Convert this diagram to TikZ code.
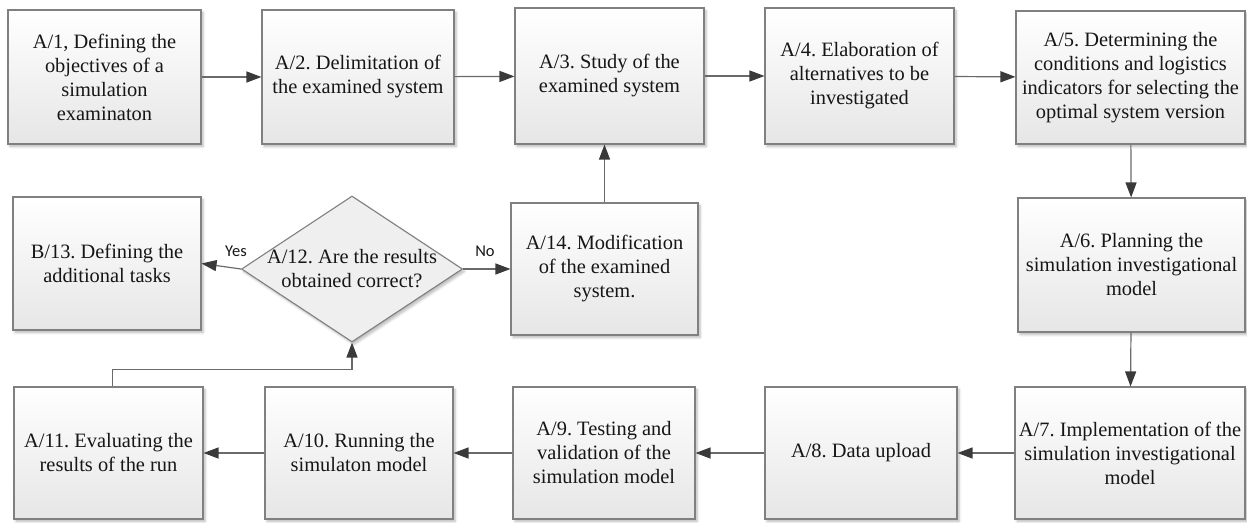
\documentclass[tikz,border=0pt]{standalone}
\usepackage{fontspec}
\setmainfont{Liberation Serif}
\newfontfamily\labelfont{Carlito}
\usetikzlibrary{arrows.meta,shapes.geometric,shadows.blur}
\frenchspacing

\definecolor{boxline}{HTML}{808080}
\definecolor{boxbot}{HTML}{E6E6E6}
\definecolor{linkcol}{HTML}{6A6A6A}
\definecolor{tipcol}{HTML}{3A3A3A}
\definecolor{txt}{HTML}{161616}
\definecolor{diafill}{HTML}{EFEFEF}

\begin{document}
\begin{tikzpicture}[x=1pt,y=-1pt,
  softshadow/.style={blur shadow={shadow xshift=2pt, shadow yshift=-2.5pt,
      shadow opacity=28, shadow blur steps=6, shadow blur radius=2.5pt}},
  stepbox/.style={draw=boxline, line width=1.1pt, top color=white,
      bottom color=boxbot, text=txt, align=center, inner sep=0pt,
      font=\fontsize{20.4}{24}\selectfont, softshadow},
  decision/.style={diamond, draw=boxline, line width=1.1pt, fill=diafill,
      inner sep=0pt, softshadow},
  steptext/.style={text=txt, align=center, inner sep=0pt,
      font=\fontsize{20.4}{24}\selectfont},
  link/.style={draw=linkcol, line width=1.2pt,
      -{Triangle[length=15pt,width=11pt,color=tipcol]}},
  answer/.style={text=txt, inner sep=0pt, font=\labelfont\fontsize{16.5}{19}\selectfont}]

\useasboundingbox (0,0) rectangle (1247,522);

% top row
\node[stepbox, minimum width=193pt, minimum height=134pt] (a1) at (104.5,77)
  {A/1, Defining the\\objectives of a\\simulation\\examinaton};
\node[stepbox, minimum width=192pt, minimum height=134pt] (a2) at (358,77)
  {A/2. Delimitation of\\the examined system};
\node[stepbox, minimum width=189pt, minimum height=136pt] (a3) at (609.5,76)
  {A/3. Study of the\\examined system};
\node[stepbox, minimum width=189pt, minimum height=136pt] (a4) at (859.5,76)
  {A/4. Elaboration of\\alternatives to be\\investigated};
\node[stepbox, minimum width=229pt, minimum height=133pt] (a5) at (1130.5,77.5)
  {A/5. Determining the\\conditions and logistics\\indicators for selecting the\\optimal system version};

% middle row
\node[stepbox, minimum width=227pt, minimum height=134pt] (a6) at (1131.5,265)
  {A/6. Planning the\\simulation investigational\\model};
\node[stepbox, minimum width=188pt, minimum height=133pt] (b13) at (107,263.5)
  {B/13. Defining the\\additional tasks};
\node[decision, minimum width=221pt, minimum height=146pt] (dia) at (352,269) {};
\node[steptext] (diatext) at (dia.center) {A/12. Are the results\\obtained correct?};
\node[stepbox, minimum width=187pt, minimum height=132pt] (a14) at (604.5,269)
  {A/14. Modification\\of the examined\\system.};

% bottom row
\node[stepbox, minimum width=230pt, minimum height=132pt] (a7) at (1130,453)
  {A/7. Implementation of the\\simulation investigational\\model};
\node[stepbox, minimum width=192pt, minimum height=132pt] (a8) at (861,453)
  {A/8. Data upload};
\node[stepbox, minimum width=182pt, minimum height=132pt] (a9) at (604,453)
  {A/9. Testing and\\validation of the\\simulation model};
\node[stepbox, minimum width=188pt, minimum height=132pt] (a10) at (359,453)
  {A/10. Running the\\simulaton model};
\node[stepbox, minimum width=189pt, minimum height=132pt] (a11) at (108.5,453)
  {A/11. Evaluating the\\results of the run};

% flow
\draw[link] (a1) -- (a2);
\draw[link] (a2) -- (a3);
\draw[link] (a3) -- (a4);
\draw[link] (a4) -- (a5);
\draw[link] (a5) -- (a6);
\draw[link] (a6) -- (a7);
\draw[link] (a7) -- (a8);
\draw[link] (a8) -- (a9);
\draw[link] (a9) -- (a10);
\draw[link] (a10) -- (a11);
\draw[link] ([xshift=4pt]a11.north) -- ++(0,-17) -| (dia.south);
\draw[link] (dia.west) -- (b13.east);
\draw[link] (dia.east) -- (a14.west);
\draw[link] (a14.north) -- (a14.north |- a3.south);

% decision labels
\node[answer] (yes) at (236,251) {Yes};
\node[answer] (no) at (485,251) {No};
\end{tikzpicture}
\end{document}
